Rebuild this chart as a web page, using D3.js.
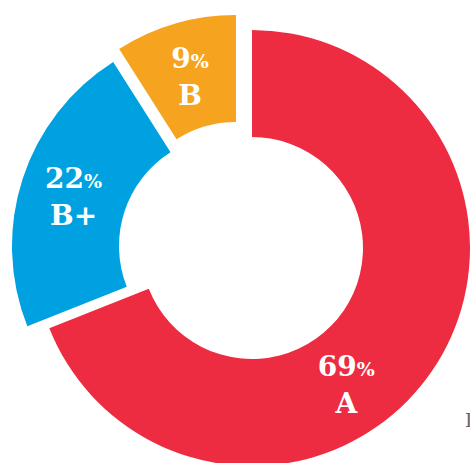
<!DOCTYPE html>
<html>
<head>
<meta charset="utf-8">
<style>
  body { margin: 0; background: #fff; }
  svg { display: block; }
  .pct { font-family: "DejaVu Serif", serif; font-weight: bold; fill: #fff; }
</style>
<script src="https://cdn.jsdelivr.net/npm/d3@7"></script>
</head>
<body>
<svg id="chart"></svg>
<script>
// chart values
let grades = ["A", "B+", "B"];
let shares = [69, 22, 9];
let colors = ["#ED2C41", "#00A1E0", "#F6A31F"];

let width = 470, height = 463;
let cx = 252, cy = 248;
let outerR = 218, innerR = 111;
// per-slice shift (exploded pieces) and label angle tweaks
let shift = [[0, 0], [-22, -2], [-16, -15]];
let labelAngle = [145, null, null];

let svg = d3.select("#chart").attr("width", width).attr("height", height);

let pie = d3.pie().sort(null).value(d => d)(shares);
let arc = d3.arc().innerRadius(innerR).outerRadius(outerR);

let slices = svg.selectAll(".slice")
  .data(pie)
  .enter().append("g")
  .attr("class", "slice")
  .attr("transform", (d, i) => `translate(${cx + shift[i][0]},${cy + shift[i][1]})`);

slices.append("path")
  .attr("d", arc)
  .attr("fill", (d, i) => colors[i]);

let labelR = (innerR + outerR) / 2;
function labelPos(d, i) {
  let a = labelAngle[i] != null ? labelAngle[i] * Math.PI / 180 : (d.startAngle + d.endAngle) / 2;
  return [Math.sin(a) * labelR, -Math.cos(a) * labelR];
}

let pct = slices.append("text")
  .attr("class", "pct")
  .attr("text-anchor", "middle")
  .attr("x", (d, i) => labelPos(d, i)[0])
  .attr("y", (d, i) => labelPos(d, i)[1] - 7);
pct.append("tspan").style("font-size", "28px").text(d => d.data);
pct.append("tspan").style("font-size", "19px").text("%");

slices.append("text")
  .attr("class", "pct")
  .attr("text-anchor", "middle")
  .style("font-size", "28px")
  .attr("x", (d, i) => labelPos(d, i)[0])
  .attr("y", (d, i) => labelPos(d, i)[1] + 30)
  .text((d, i) => grades[i]);

// clipped caption at the right edge
svg.append("text")
  .attr("x", 465)
  .attr("y", 427)
  .style("font-family", "DejaVu Serif, serif")
  .style("font-size", "19px")
  .attr("fill", "#666")
  .text("I");
</script>
</body>
</html>
